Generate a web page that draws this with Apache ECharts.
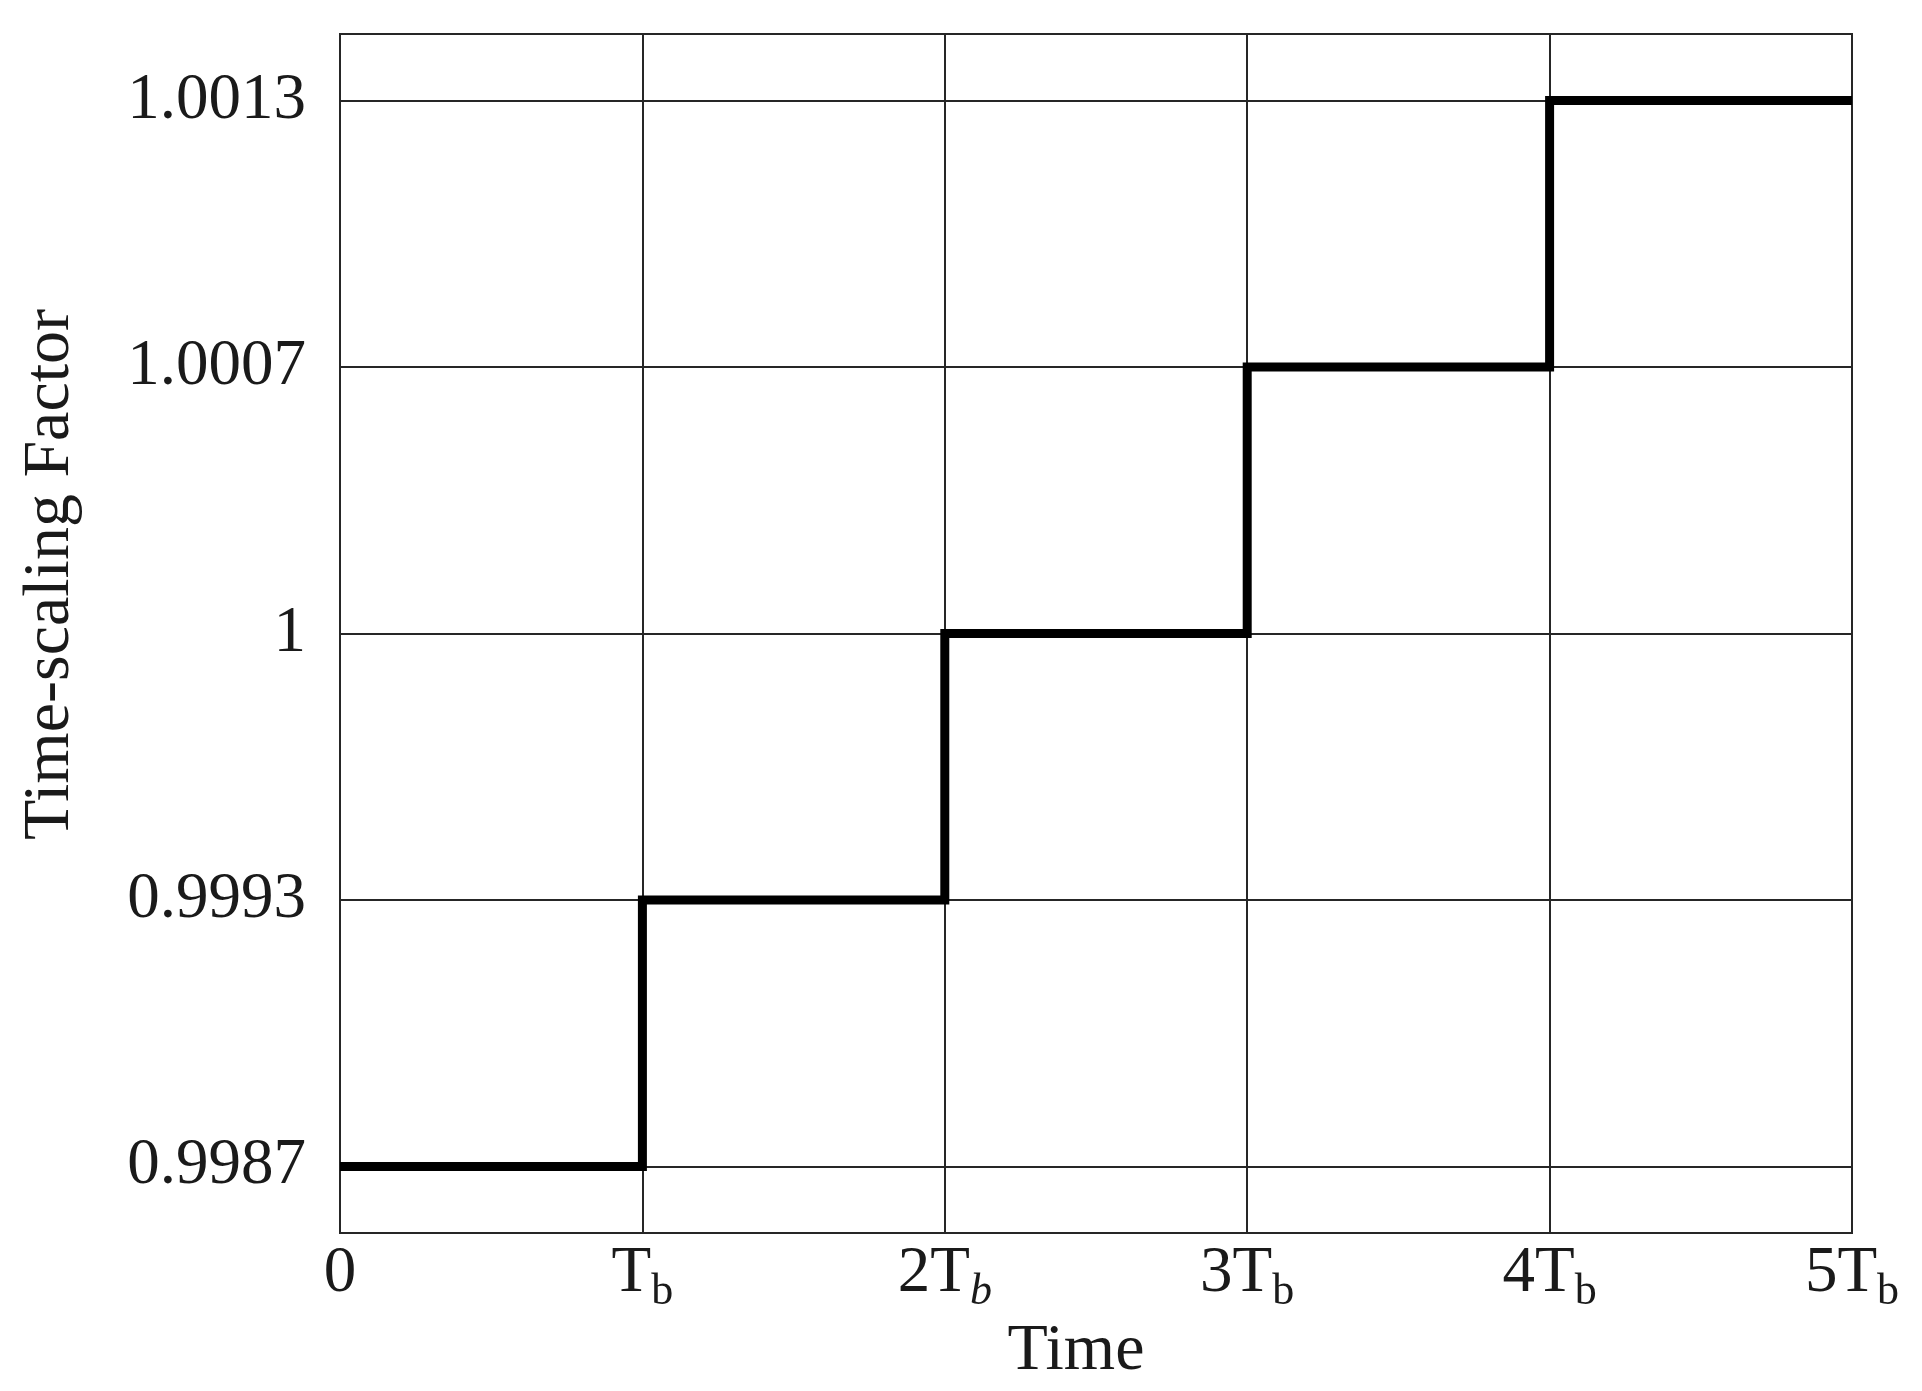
<!DOCTYPE html>
<html>
<head>
<meta charset="utf-8">
<script src="https://cdn.jsdelivr.net/npm/echarts@6/dist/echarts.min.js"></script>
<style>
  html, body { margin: 0; padding: 0; background: #fff; }
  #chart { width: 1922px; height: 1391px; }
</style>
</head>
<body>
<div id="chart"></div>
<script>
// ---- data ----
const yLevelLabels = ['0.9987', '0.9993', '1', '1.0007', '1.0013'];
const stepStart = [0, 1, 2, 3, 4];           // in units of Tb
const stepValue = [0.9987, 0.9993, 1, 1.0007, 1.0013];
const endTime = 5;
const xTickMain = ['0', 'T', '2T', '3T', '4T', '5T'];
const xTickSub = ['', 'b', 'b', 'b', 'b', 'b'];
const xTickSubItalic = [false, false, true, false, false, false];
const xName = 'Time';
const yName = 'Time-scaling Factor';

// ---- build ----
const levelIndex = v => yLevelLabels.indexOf(String(v));
const lineData = stepStart.map((t, i) => [t, levelIndex(stepValue[i])]);
lineData.push([endTime, levelIndex(stepValue[stepValue.length - 1])]);
const levelTicks = yLevelLabels.map((_, i) => i);

const FONT = 'Liberation Serif';
const TXT = '#1a1a1a';
const GRIDC = '#262626';

const chart = echarts.init(document.getElementById('chart'));
chart.setOption({
  animation: false,
  backgroundColor: '#fff',
  grid: {
    left: 340, right: 70, top: 34, bottom: 158,
    show: true, borderColor: GRIDC, borderWidth: 2, backgroundColor: 'transparent'
  },
  xAxis: {
    type: 'value', min: 0, max: endTime, interval: 1,
    name: xName, nameLocation: 'middle', nameGap: 72,
    nameTextStyle: { fontFamily: FONT, fontSize: 66, color: TXT, padding: [0, 40, 0, 0] },
    axisLine: { show: false },
    axisTick: { show: false },
    splitLine: { show: true, lineStyle: { color: GRIDC, width: 2 } },
    axisLabel: {
      margin: 1,
      formatter: function (v) {
        const i = Math.round(v);
        let s = '{t|' + xTickMain[i] + '}';
        if (xTickSub[i]) s += '{' + (xTickSubItalic[i] ? 'si' : 's') + '|' + xTickSub[i] + '}';
        return s;
      },
      rich: {
        t: { fontFamily: FONT, fontSize: 65, lineHeight: 80, color: TXT },
        s: { fontFamily: FONT, fontSize: 44, lineHeight: 44, padding: [36, 0, 0, 0], color: TXT },
        si: { fontFamily: FONT, fontSize: 44, lineHeight: 44, fontStyle: 'italic', padding: [36, 0, 0, 0], color: TXT }
      }
    }
  },
  yAxis: {
    type: 'value', min: -0.25, max: yLevelLabels.length - 0.75,
    name: yName, nameLocation: 'middle', nameGap: 256,
    nameTextStyle: { fontFamily: FONT, fontSize: 66, color: TXT, padding: [0, 0, 0, 118] },
    axisLine: { show: false },
    axisTick: { show: true, inside: true, length: 0, lineStyle: { width: 0 }, customValues: levelTicks },
    splitLine: { show: true, lineStyle: { color: GRIDC, width: 2 } },
    axisLabel: {
      customValues: levelTicks,
      margin: 34,
      fontFamily: FONT, fontSize: 65, color: TXT,
      padding: [0, 0, 12, 0],
      formatter: v => yLevelLabels[Math.round(v)]
    }
  },
  series: [{
    type: 'line',
    step: 'end',
    data: lineData,
    symbol: 'none',
    lineStyle: { color: '#000', width: 9, join: 'miter', cap: 'butt' },
    z: 5
  }]
});
</script>
</body>
</html>
